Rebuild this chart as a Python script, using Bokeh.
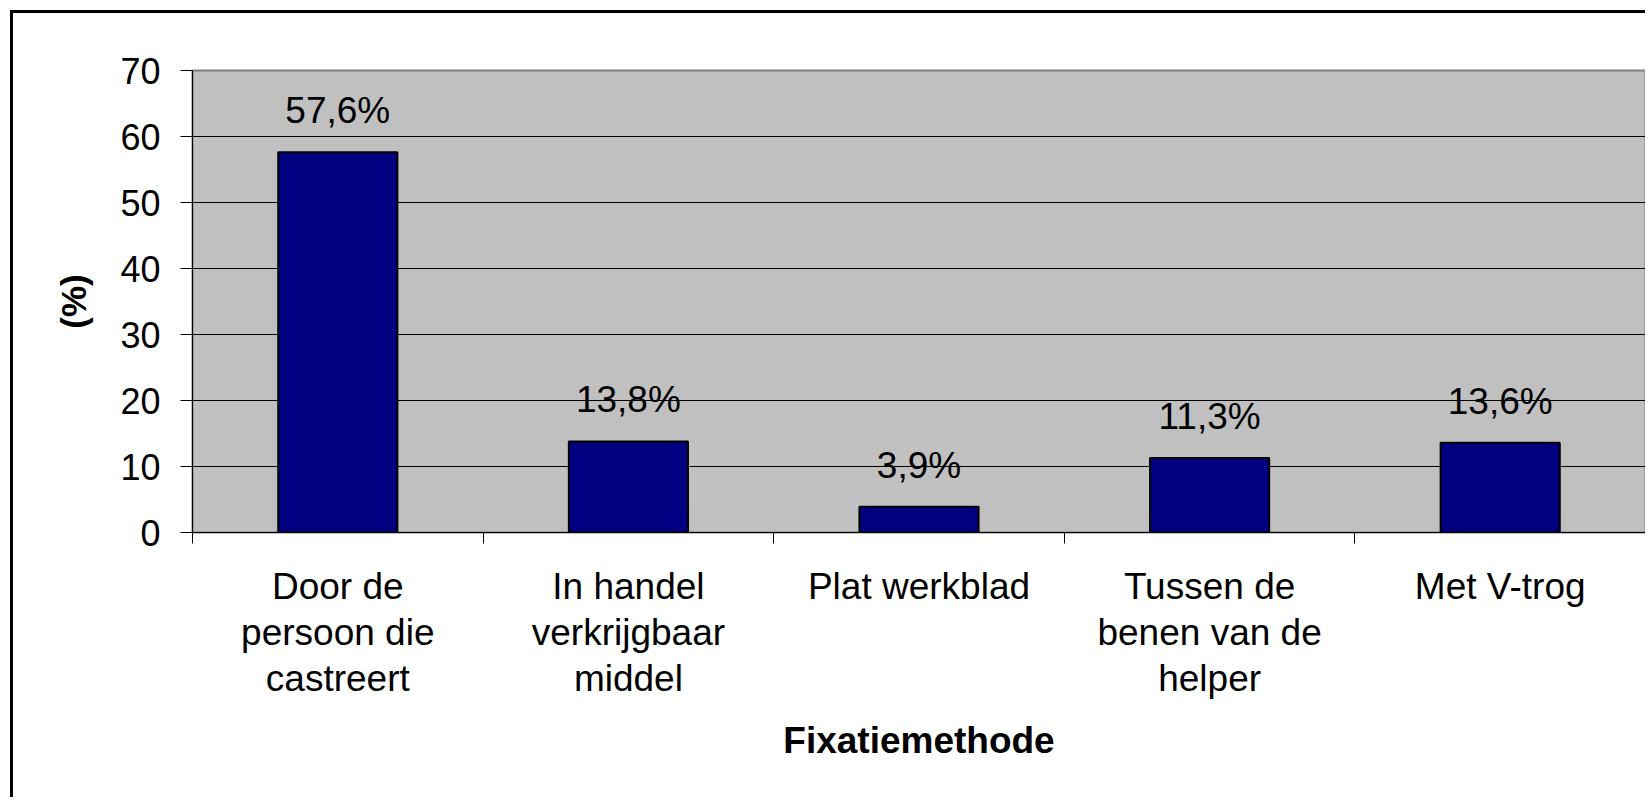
from bokeh.plotting import figure
from bokeh.models import Range1d, FixedTicker, ColumnDataSource, LabelSet
from bokeh.core.properties import value
from bokeh.embed import file_html
from bokeh.resources import INLINE

# ---- data ----
categories = ["Door de\npersoon die\ncastreert",
              "In handel\nverkrijgbaar\nmiddel",
              "Plat werkblad",
              "Tussen de\nbenen van de\nhelper",
              "Met V-trog"]
values = [57.6, 13.8, 3.9, 11.3, 13.6]
y_ticks = [0, 10, 20, 30, 40, 50, 60, 70]
x_title = "Fixatiemethode"
y_title = "(%)"

FONT = "Liberation Sans"

n = len(categories)
centers = [i + 0.5 for i in range(n)]
bounds = [i for i in range(n + 1)]
labels = [("%.1f" % v).replace(".", ",") + "%" for v in values]

src = ColumnDataSource(dict(x=centers, top=values, label=labels))

p = figure(width=1635, height=787, output_backend="svg", toolbar_location=None,
           x_range=Range1d(0, n), y_range=Range1d(y_ticks[0], y_ticks[-1]),
           min_border_left=179, min_border_top=57, min_border_right=3,
           min_border_bottom=268,
           styles={"margin-left": "10px", "margin-top": "10px",
                   "border-left": "3px solid black", "border-top": "3px solid black"})

p.background_fill_color = "#C0C0C0"
p.border_fill_color = "white"
p.outline_line_color = "#808080"
p.outline_line_width = 2

# grid
p.xgrid.visible = False
p.ygrid.ticker = FixedTicker(ticks=y_ticks[1:-1])
p.ygrid.grid_line_color = "black"
p.ygrid.grid_line_width = 1

# bars
p.vbar(x="x", top="top", width=0.41, bottom=0, source=src,
       fill_color="#000080", line_color="black", line_width=2)

# data labels
p.add_layout(LabelSet(x="x", y="top", text="label", source=src,
                      text_align="center", text_baseline="alphabetic",
                      y_offset=29, text_font=value(FONT), text_font_size="37px",
                      text_color="black"))

# y axis
ya = p.yaxis[0]
ya.ticker = FixedTicker(ticks=y_ticks)
ya.axis_line_color = "black"
ya.axis_line_width = 1
ya.major_tick_out = 12
ya.major_tick_in = 0
ya.major_tick_line_color = "black"
ya.minor_tick_line_color = None
ya.major_label_standoff = 20
ya.major_label_text_font = FONT
ya.major_label_text_font_size = "36px"
ya.major_label_text_color = "black"
ya.axis_label = y_title
ya.axis_label_text_font = FONT
ya.axis_label_text_font_size = "35px"
ya.axis_label_text_font_style = "bold"
ya.axis_label_text_color = "black"
ya.axis_label_standoff = 24

# x axis
xa = p.xaxis[0]
xa.ticker = FixedTicker(ticks=centers, minor_ticks=bounds)
xa.major_label_overrides = {c: lab for c, lab in zip(centers, categories)}
xa.axis_line_color = "black"
xa.axis_line_width = 1
xa.major_tick_out = 0
xa.major_tick_in = 0
xa.major_tick_line_color = None
xa.minor_tick_out = 11
xa.minor_tick_in = 0
xa.minor_tick_line_color = "black"
xa.major_label_standoff = 22
xa.major_label_text_font = FONT
xa.major_label_text_font_size = "37px"
xa.major_label_text_line_height = 1.13
xa.major_label_text_color = "black"
xa.major_label_orientation = "horizontal"
xa.axis_label = x_title
xa.axis_label_text_font = FONT
xa.axis_label_text_font_size = "37px"
xa.axis_label_text_font_style = "bold"
xa.axis_label_text_color = "black"
xa.axis_label_standoff = 18

open("out.html", "w").write(file_html(p, INLINE))
